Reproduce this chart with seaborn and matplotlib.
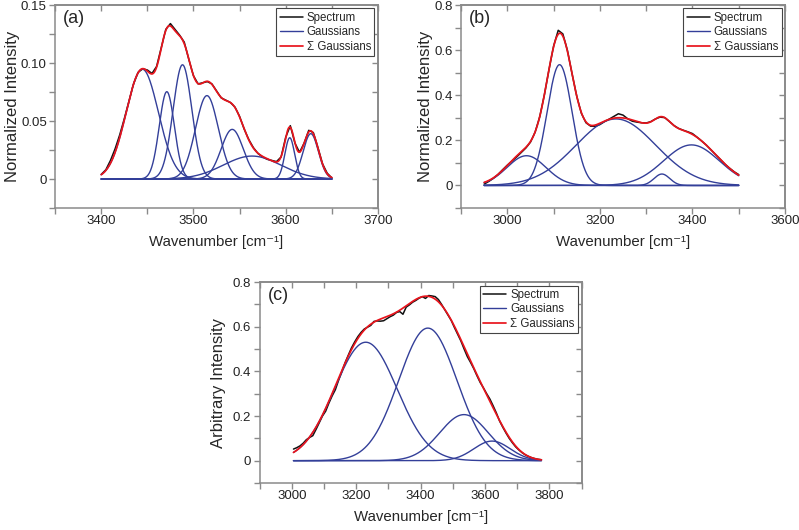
import numpy as np
import matplotlib
matplotlib.use("Agg")
import matplotlib.pyplot as plt
import seaborn as sns

# (a) fitted Gaussian components: centre, height, width (cm-1)
a_centers = [3444.5, 3471.1, 3488.1, 3514.6, 3542.0, 3563.5, 3604.4, 3627.2]
a_heights = [0.0947, 0.0753, 0.0985, 0.0719, 0.0428, 0.0198, 0.0356, 0.0391]
a_widths = [17.5, 8.2, 10.2, 12.4, 12.0, 31.2, 5.3, 8.3]
a_wn = list(range(3400, 3655, 5))
a_spec = [0.004, 0.008, 0.016, 0.026, 0.038, 0.052, 0.067, 0.082, 0.092, 0.095,
          0.094, 0.091, 0.097, 0.113, 0.129, 0.134, 0.129, 0.124, 0.118, 0.103,
          0.089, 0.082, 0.083, 0.084, 0.082, 0.076, 0.070, 0.068, 0.066, 0.062,
          0.054, 0.043, 0.034, 0.027, 0.022, 0.019, 0.017, 0.016, 0.015, 0.019,
          0.036, 0.046, 0.031, 0.023, 0.031, 0.042, 0.040, 0.027, 0.013, 0.005, 0.001]

# (b)
b_centers = [3041.4, 3112.9, 3234.7, 3334.0, 3397.9]
b_heights = [0.1319, 0.5356, 0.2950, 0.0508, 0.1799]
b_widths = [42.1, 27.1, 86.0, 17.0, 60.4]
b_wn = list(range(2950, 3510, 10))
b_spec = [0.006, 0.018, 0.032, 0.049, 0.070, 0.090, 0.108, 0.126, 0.146, 0.166,
          0.192, 0.236, 0.304, 0.401, 0.513, 0.618, 0.688, 0.672, 0.598, 0.494,
          0.396, 0.320, 0.278, 0.263, 0.262, 0.270, 0.283, 0.294, 0.306, 0.318,
          0.312, 0.296, 0.285, 0.281, 0.278, 0.277, 0.283, 0.295, 0.303, 0.301,
          0.284, 0.266, 0.253, 0.245, 0.238, 0.230, 0.214, 0.197, 0.179, 0.158,
          0.137, 0.116, 0.095, 0.077, 0.061, 0.048]

# (c)
c_centers = [3229.5, 3422.2, 3534.5, 3621.6]
c_heights = [0.5307, 0.5940, 0.2064, 0.0878]
c_widths = [97.2, 90.5, 75.5, 56.4]
c_wn = list(range(3005, 3785, 10))
c_spec = [0.052, 0.058, 0.066, 0.078, 0.094, 0.104, 0.112, 0.140, 0.170, 0.200,
          0.222, 0.258, 0.290, 0.318, 0.360, 0.398, 0.438, 0.472, 0.505, 0.532,
          0.556, 0.575, 0.590, 0.598, 0.606, 0.624, 0.626, 0.625, 0.627, 0.636,
          0.645, 0.652, 0.664, 0.668, 0.656, 0.688, 0.698, 0.710, 0.718, 0.728,
          0.735, 0.727, 0.740, 0.738, 0.735, 0.722, 0.700, 0.676, 0.652, 0.628,
          0.596, 0.566, 0.536, 0.500, 0.466, 0.440, 0.412, 0.380, 0.350, 0.326,
          0.300, 0.276, 0.246, 0.214, 0.178, 0.150, 0.124, 0.100, 0.080, 0.062,
          0.048, 0.036, 0.026, 0.019, 0.013, 0.009, 0.006, 0.004]

panels = [
    dict(tag="(a)", wn=a_wn, spec=a_spec, c=a_centers, h=a_heights, w=a_widths,
         ylabel="Normalized Intensity", xlim=(3350, 3700), ylim=(-0.025, 0.15),
         xmaj=[3400, 3500, 3600, 3700], xmin=list(range(3350, 3701, 50)),
         ymaj=[0, 0.05, 0.10, 0.15], ylab=["0", "0.05", "0.10", "0.15"],
         ymin=[-0.025, 0, 0.025, 0.05, 0.075, 0.1, 0.125, 0.15],
         rect=[0.069, 0.6075, 0.404, 0.383], ypad=1),
    dict(tag="(b)", wn=b_wn, spec=b_spec, c=b_centers, h=b_heights, w=b_widths,
         ylabel="Normalized Intensity", xlim=(2900, 3600), ylim=(-0.1, 0.8),
         xmaj=[3000, 3200, 3400, 3600], xmin=list(range(2900, 3601, 100)),
         ymaj=[0, 0.2, 0.4, 0.6, 0.8], ylab=["0", "0.2", "0.4", "0.6", "0.8"],
         ymin=[-0.1, 0, 0.1, 0.2, 0.3, 0.4, 0.5, 0.6, 0.7, 0.8],
         rect=[0.577, 0.6075, 0.4055, 0.383], ypad=1),
    dict(tag="(c)", wn=c_wn, spec=c_spec, c=c_centers, h=c_heights, w=c_widths,
         ylabel="Arbitrary Intensity", xlim=(2900, 3900), ylim=(-0.1, 0.8),
         xmaj=[3000, 3200, 3400, 3600, 3800], xmin=list(range(2900, 3901, 100)),
         ymaj=[0, 0.2, 0.4, 0.6, 0.8], ylab=["0", "0.2", "0.4", "0.6", "0.8"],
         ymin=[-0.1, 0, 0.1, 0.2, 0.3, 0.4, 0.5, 0.6, 0.7, 0.8],
         rect=[0.325, 0.0887, 0.403, 0.379], ypad=5),
]

GRAY = "#8a8a8a"
BLUE = "#333f99"
RED = "#e8141c"

sns.set_theme(style="ticks")
plt.rcParams['font.family'] = ['Liberation Sans', 'DejaVu Sans']

fig = plt.figure(figsize=(7.99, 5.30), dpi=100)

for p in panels:
    ax = fig.add_axes(p["rect"])
    x = np.linspace(p["wn"][0], p["wn"][-1], 800)
    comps = [h * np.exp(-0.5 * ((x - c) / w) ** 2) for c, h, w in zip(p["c"], p["h"], p["w"])]

    sns.lineplot(x=p["wn"], y=p["spec"], color="#111111", lw=1.1, ax=ax, label="Spectrum")
    for i, g in enumerate(comps):
        sns.lineplot(x=x, y=g, color=BLUE, lw=1.0, ax=ax, label="Gaussians" if i == 0 else None)
    sns.lineplot(x=x, y=np.sum(comps, axis=0), color=RED, lw=1.25, ax=ax, label="Σ Gaussians")

    ax.set_xlim(p["xlim"])
    ax.set_ylim(p["ylim"])
    ax.set_xticks(p["xmaj"], labels=[str(v) for v in p["xmaj"]])
    ax.set_xticks(p["xmin"], minor=True)
    ax.set_yticks(p["ymaj"], labels=p["ylab"])
    ax.set_yticks(p["ymin"], minor=True)
    ax.tick_params(which="both", direction="out", length=4, width=1, color=GRAY,
                   labelsize=9.5, labelcolor="#222222")
    ax.tick_params(axis="x", pad=1)
    ax.tick_params(axis="y", pad=2)
    for s in ax.spines.values():
        s.set_color(GRAY)
        s.set_linewidth(1.1)

    # inward ticks on the top and right frame
    top = ax.secondary_xaxis("top")
    top.set_xticks(p["xmin"], labels=[""] * len(p["xmin"]))
    top.tick_params(direction="in", length=4, width=1, color=GRAY)
    top.spines["top"].set_color(GRAY)
    right = ax.secondary_yaxis("right")
    right.set_yticks(p["ymin"], labels=[""] * len(p["ymin"]))
    right.tick_params(direction="in", length=4, width=1, color=GRAY)
    right.spines["right"].set_color(GRAY)

    ax.set_xlabel("Wavenumber [cm⁻¹]", fontsize=10.8, labelpad=6)
    ax.set_ylabel(p["ylabel"], fontsize=12, labelpad=p["ypad"])
    ax.text(0.025, 0.935, p["tag"], transform=ax.transAxes, fontsize=13, va="center")
    ax.legend(loc="upper right", fontsize=8.3, fancybox=False, edgecolor="#444444", framealpha=1,
              handlelength=2.0, handletextpad=0.35, labelspacing=0.2, borderpad=0.3,
              borderaxespad=0.3).get_frame().set_linewidth(0.8)

fig.savefig("out.png", dpi=100)
